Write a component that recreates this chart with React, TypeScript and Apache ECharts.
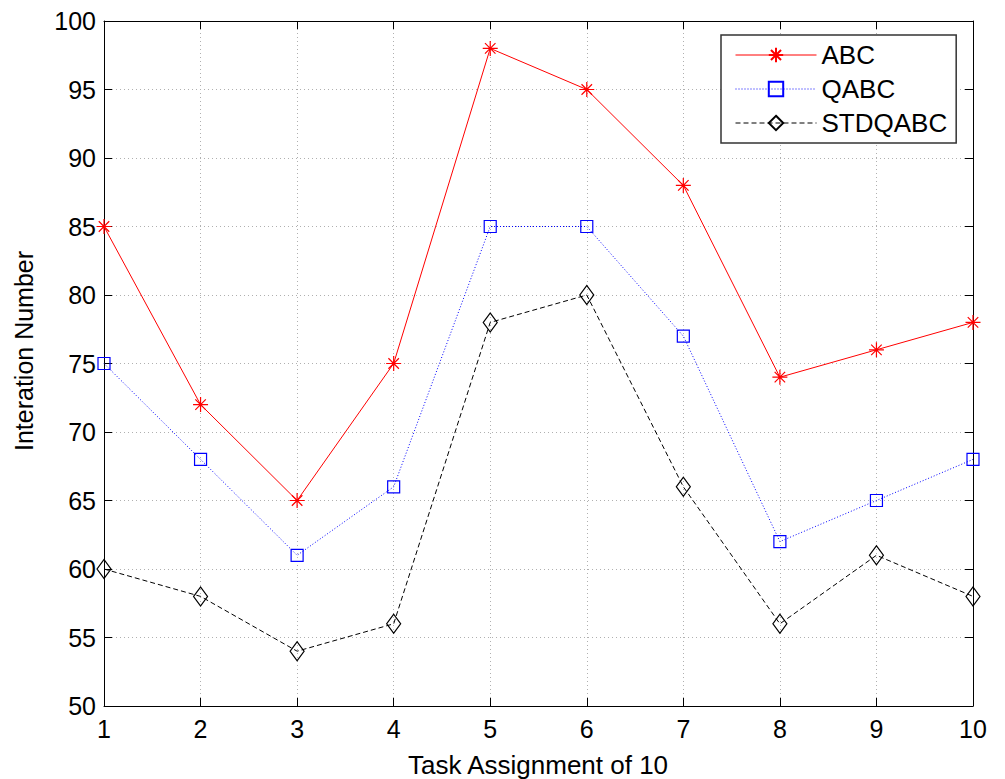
import React, { useEffect, useRef } from "react";
import * as echarts from "echarts";

const tasks = [1, 2, 3, 4, 5, 6, 7, 8, 9, 10];
const abc = [85, 72, 65, 75, 98, 95, 88, 74, 76, 78];
const qabc = [75, 68, 61, 66, 85, 85, 77, 62, 65, 68];
const stdqabc = [60, 58, 54, 56, 78, 80, 66, 56, 61, 58];
const xTitle = "Task Assignment of 10";
const yTitle = "Interation Number";

const FONT = "'Liberation Sans', Arial, sans-serif";
const ASTERISK = "path://M0,-10 L0,10 M-10,0 L10,0 M-7,-7 L7,7 M-7,7 L7,-7";

export default function App() {
  const ref = useRef<HTMLDivElement>(null);
  useEffect(() => {
    if (!ref.current) return;
    const chart = echarts.init(ref.current, undefined, { renderer: "svg" });
    const pair = (ys: number[]) => tasks.map((x, i) => [x, ys[i]]);
    const axisCommon = {
      type: "value" as const,
      axisLine: { show: true, onZero: false, lineStyle: { color: "#000", width: 1 } },
      axisTick: { show: true, inside: true, length: 8, lineStyle: { color: "#000" } },
    };
    chart.setOption({
      animation: false,
      backgroundColor: "#fff",
      grid: { left: 104, top: 21, right: 32, bottom: 73, containLabel: false },
      legend: {
        orient: "vertical",
        left: 721,
        top: 35,
        width: 239,
        backgroundColor: "#fff",
        borderColor: "#333",
        borderWidth: 1.5,
        padding: [6, 9, 6, 14],
        itemGap: 6,
        itemWidth: 81,
        itemHeight: 18,
        lineStyle: { width: 1 },
        textStyle: { fontFamily: FONT, fontSize: 26, color: "#000", lineHeight: 28 },
        data: ["ABC", "QABC", "STDQABC"],
      },
      graphic: [
        {
          type: "text",
          x: 538,
          y: 765,
          style: {
            text: xTitle,
            fontFamily: FONT,
            fontSize: 26,
            fill: "#000",
            align: "center",
            verticalAlign: "middle",
          },
        },
        {
          type: "text",
          x: 24,
          y: 351,
          rotation: Math.PI / 2,
          style: {
            text: yTitle,
            fontFamily: FONT,
            fontSize: 25,
            fill: "#000",
            align: "center",
            verticalAlign: "middle",
          },
        },
      ],
      xAxis: [
        {
          ...axisCommon,
          min: 1,
          max: 10,
          interval: 1,
          position: "bottom",
          axisLabel: { fontFamily: FONT, fontSize: 25, color: "#000", margin: 10 },
          splitLine: { show: true, lineStyle: { color: "#b0b0b0", type: [1, 3], width: 1 } },
        },
        {
          ...axisCommon,
          min: 1,
          max: 10,
          interval: 1,
          position: "top",
          axisLabel: { show: false },
          splitLine: { show: false },
        },
      ],
      yAxis: [
        {
          ...axisCommon,
          min: 50,
          max: 100,
          interval: 5,
          position: "left",
          axisLabel: { fontFamily: FONT, fontSize: 25, color: "#000", margin: 8 },
          splitLine: { show: true, lineStyle: { color: "#b0b0b0", type: [1, 3], width: 1 } },
        },
        {
          ...axisCommon,
          min: 50,
          max: 100,
          interval: 5,
          position: "right",
          axisLabel: { show: false },
          splitLine: { show: false },
        },
      ],
      series: [
        {
          name: "ABC",
          type: "line",
          data: pair(abc),
          symbol: ASTERISK,
          symbolSize: 15,
          showAllSymbol: true,
          lineStyle: { color: "#ff0000", width: 1, type: "solid" },
          itemStyle: { color: "#ff0000", borderColor: "#ff0000", borderWidth: 1.2 },
          z: 3,
        },
        {
          name: "QABC",
          type: "line",
          data: pair(qabc),
          symbol: "rect",
          symbolSize: 12,
          showAllSymbol: true,
          lineStyle: { color: "#0000ff", width: 1, type: [1, 2] },
          itemStyle: { color: "rgba(0,0,0,0)", borderColor: "#0000ff", borderWidth: 1.2 },
          z: 3,
        },
        {
          name: "STDQABC",
          type: "line",
          data: pair(stdqabc),
          symbol: "diamond",
          symbolSize: [14, 19],
          showAllSymbol: true,
          lineStyle: { color: "#000", width: 1, type: [5, 3] },
          itemStyle: { color: "rgba(0,0,0,0)", borderColor: "#000", borderWidth: 1.2 },
          z: 3,
        },
      ],
    });
    return () => chart.dispose();
  }, []);
  return (
    <div
      ref={ref}
      style={{ position: "fixed", left: 0, top: 0, width: 1005, height: 779, background: "#fff" }}
    />
  );
}
